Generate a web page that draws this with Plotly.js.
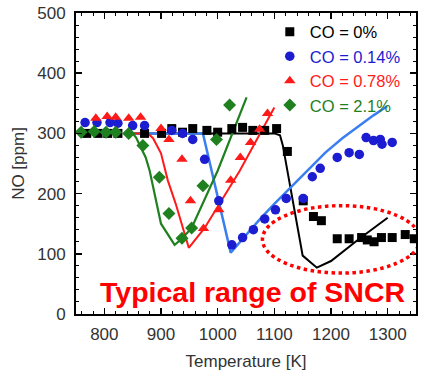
<!DOCTYPE html>
<html>
<head>
<meta charset="utf-8">
<script src="https://cdn.plot.ly/plotly-3.0.1.min.js"></script>
<style>html,body{margin:0;padding:0;background:#fff;}#chart{width:422px;height:371px;}</style>
</head>
<body>
<div id="chart"></div>
<script>
// ---- data ----
const seriesNames = ['CO = 0%', 'CO = 0.14%', 'CO = 0.78%', 'CO = 2.1%'];

// measured points (markers)
const co0_T  = [769, 789, 806, 824, 871, 901, 919, 938, 956, 981, 1000, 1025, 1044, 1062, 1083, 1104, 1123, 1151, 1169, 1183, 1211, 1232, 1254, 1264, 1276, 1289, 1308, 1331, 1347];
const co0_NO = [300, 300, 300, 300, 300, 300, 308, 302, 308, 305, 302, 308, 310, 305, 305, 308, 270, 188, 162, 155, 125, 125, 127, 123, 120, 127, 127, 132, 125];

const co014_T  = [766, 787, 810, 824, 850, 871, 919, 938, 956, 977, 1002, 1025, 1044, 1063, 1083, 1102, 1121, 1151, 1167, 1181, 1211, 1232, 1250, 1262, 1275, 1287, 1290, 1308];
const co014_NO = [318, 318, 318, 317, 313, 313, 305, 300, 290, 257, 188, 115, 127, 140, 158, 173, 192, 192, 228, 242, 260, 268, 265, 293, 288, 290, 282, 285];

const co078_T  = [785, 805, 820, 843, 864, 900, 914, 937, 952, 975, 1002, 1023, 1040, 1058, 1074, 1088];
const co078_NO = [325, 328, 327, 325, 327, 308, 290, 257, 188, 142, 173, 222, 260, 285, 307, 333];

const co21_T  = [759, 782, 803, 820, 843, 868, 897, 914, 937, 954, 974, 998, 1021];
const co21_NO = [302, 303, 302, 302, 300, 280, 227, 167, 126, 143, 213, 290, 347];

// model curves (lines)
const m0_T  = [852, 1100, 1110, 1115, 1150, 1175, 1200, 1250, 1300];
const m0_NO = [300, 300, 297, 280, 97, 77, 88, 125, 160];

const m014_T  = [856, 974, 1023, 1050, 1075, 1100, 1130, 1160, 1190, 1220, 1250, 1275, 1299];
const m014_NO = [300, 300, 102, 132, 158, 183, 211, 240, 268, 292, 313, 330, 345];

const m078_T  = [852, 877, 886, 900, 912, 926, 949, 977, 1039, 1100];
const m078_NO = [300, 300, 292, 267, 222, 183, 110, 143, 238, 343];

const m21_T  = [850, 856, 873, 880, 900, 924, 937, 954, 1000, 1051];
const m21_NO = [300, 293, 260, 238, 150, 115, 125, 143, 238, 360];

const xTickVals = [800, 900, 1000, 1100, 1200, 1300];
const yTickVals = [0, 100, 200, 300, 400, 500];

// ---- drawing ----
const C_BLACK = '#000000', C_BLUE = '#1c1cd0', C_BLUELINE = '#3a7ff0', C_RED = '#ff1a1a', C_GREEN = '#1f801f';
const FONT = 'Liberation Sans, Arial, sans-serif';

function line(T, NO, color, w) {
  return {x: T, y: NO, mode: 'lines', line: {color: color, width: w}, showlegend: false, hoverinfo: 'skip'};
}
function pts(T, NO, name, color, symbol, size) {
  return {x: T, y: NO, mode: 'markers', name: '<span style="color:' + color + '">' + name + '</span>',
          marker: {color: color, symbol: symbol, size: size, line: {width: 0}}};
}

const data = [
  line(m0_T, m0_NO, C_BLACK, 2),
  line(m014_T, m014_NO, C_BLUELINE, 2.5),
  line(m078_T, m078_NO, C_RED, 2),
  line(m21_T, m21_NO, C_GREEN, 2.2),
  pts(co0_T, co0_NO, seriesNames[0], C_BLACK, 'square', 9),
  pts(co014_T, co014_NO, seriesNames[1], C_BLUE, 'circle', 9.5),
  pts(co078_T, co078_NO, seriesNames[2], C_RED, 'triangle-up', 10),
  pts(co21_T, co21_NO, seriesNames[3], C_GREEN, 'diamond', 10)
];

const axisCommon = {
  showgrid: false, zeroline: false, showline: true, linecolor: '#000', linewidth: 2,
  mirror: 'allticks', ticks: 'inside', ticklen: 6, tickwidth: 1.5, tickcolor: '#000',
  tickfont: {family: FONT, size: 17, color: '#333'}
};

const layout = {
  width: 422, height: 371,
  margin: {l: 76, r: 6, t: 13, b: 57},
  paper_bgcolor: '#fff', plot_bgcolor: '#fff',
  font: {family: FONT, color: '#333'},
  xaxis: Object.assign({}, axisCommon, {
    range: [750, 1350], tickmode: 'array', tickvals: xTickVals,
    ticklabelstandoff: 4,
    minor: {dtick: 20, tick0: 0, ticks: 'inside', ticklen: 3, tickwidth: 1, tickcolor: '#000'},
    title: {text: 'Temperature [K]', font: {size: 17, color: '#333'}, standoff: 13}
  }),
  yaxis: Object.assign({}, axisCommon, {
    range: [0, 500], tickmode: 'array', tickvals: yTickVals,
    ticklabelstandoff: 5,
    minor: {dtick: 20, tick0: 0, ticks: 'inside', ticklen: 3, tickwidth: 1, tickcolor: '#000'},
    title: {text: 'NO [ppm]', font: {size: 17, color: '#333'}, standoff: 8}
  }),
  legend: {
    x: 0.57, y: 0.995, xanchor: 'left', yanchor: 'top',
    bgcolor: 'rgba(0,0,0,0)', font: {size: 16.5, family: FONT},
    tracegroupgap: 0, itemwidth: 30
  },
  shapes: [{
    type: 'circle', xref: 'x', yref: 'y',
    x0: 1079, x1: 1357, y0: 68, y1: 180,
    line: {color: '#ff0000', width: 3.5, dash: 'dot'}
  }],
  annotations: [{
    xref: 'x', yref: 'y', x: 1062, y: 37, xanchor: 'center', yanchor: 'middle',
    text: 'Typical range of SNCR', showarrow: false,
    font: {family: FONT, size: 28.5, color: '#ff0000', weight: 'bold'}
  }]
};

Plotly.newPlot('chart', data, layout, {displayModeBar: false, staticPlot: true});
</script>
</body>
</html>
